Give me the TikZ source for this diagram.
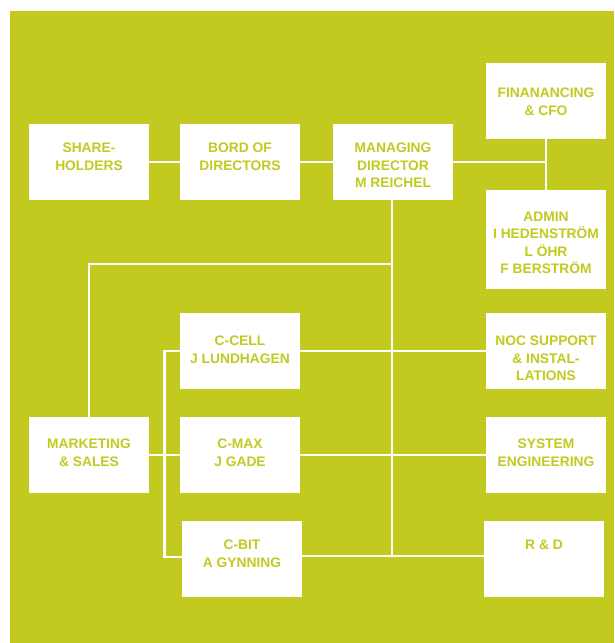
\documentclass[tikz,border=0pt]{standalone}
\usepackage{fontspec}
\setmainfont{Liberation Sans}
\definecolor{lime}{HTML}{C2CA1F}
\begin{document}
\begin{tikzpicture}[x=1pt,y=-1pt,
  box/.style={fill=white,draw=none,minimum width=120pt,minimum height=76pt,inner sep=0pt},
  txt/.style={anchor=north,inner sep=0pt,align=center,text=lime,font=\bfseries\fontsize{13.8}{17.5}\selectfont},
  wire/.style={draw=white,line width=2.8pt}]
\useasboundingbox (0,0) rectangle (614,643);
\fill[lime] (10,11) rectangle (614,643);
% boxes
\node[box] (share) at (89,162) {};
\node[box] (bord) at (240,162) {};
\node[box] (md) at (393,162) {};
\node[box] (fin) at (546,101) {};
\node[box,minimum height=99pt] (admin) at (546,239.5) {};
\node[box] (ccell) at (240,351) {};
\node[box] (noc) at (546,351) {};
\node[box] (mkt) at (89,455) {};
\node[box] (cmax) at (240,455) {};
\node[box] (sys) at (546,455) {};
\node[box] (cbit) at (242,559) {};
\node[box] (rd) at (544,559) {};
% connectors
\coordinate (j1) at (392,264);
\coordinate (j2) at (392,556);
\draw[wire] (share.east) -- (bord.west);
\draw[wire] (bord.east) -- (md.west);
\draw[wire] (md.east) -- (md.east -| fin.south);
\draw[wire] (fin.south) -- (admin.north);
\draw[wire] (md.south -| j1) -- (j2);
\draw[wire] (j1) -| (mkt.north);
\draw[wire] (mkt.east) -- (cmax.west);
\draw[wire] (ccell.west) -- ++(-15,0) |- ([yshift=2pt]cbit.west);
\draw[wire] (ccell.east) -- (noc.west);
\draw[wire] (cmax.east) -- (sys.west);
\draw[wire] ([yshift=3pt]cbit.east) -- ([yshift=3pt]rd.west);
% texts
\node[txt] (share-t) at ([yshift=-19pt]share.north) {SHARE-\\HOLDERS};
\node[txt] (bord-t) at ([yshift=-19pt]bord.north) {BORD OF\\DIRECTORS};
\node[txt] (md-t) at ([yshift=-19pt]md.north) {MANAGING\\DIRECTOR\\M REICHEL};
\node[txt] (fin-t) at ([yshift=-25pt]fin.north) {FINANANCING\\\& CFO};
\node[txt] (admin-t) at ([yshift=-22pt]admin.north) {ADMIN\\I HEDENSTRÖM\\L ÖHR\\F BERSTRÖM};
\node[txt] (ccell-t) at ([yshift=-23pt]ccell.north) {C-CELL\\J LUNDHAGEN};
\node[txt] (noc-t) at ([yshift=-23pt]noc.north) {NOC SUPPORT\\\& INSTAL-\\LATIONS};
\node[txt] (mkt-t) at ([yshift=-22pt]mkt.north) {MARKETING\\\& SALES};
\node[txt] (cmax-t) at ([yshift=-22pt]cmax.north) {C-MAX\\J GADE};
\node[txt] (sys-t) at ([yshift=-22pt]sys.north) {SYSTEM\\ENGINEERING};
\node[txt] (cbit-t) at ([yshift=-19pt]cbit.north) {C-BIT\\A GYNNING};
\node[txt] (rd-t) at ([yshift=-19pt]rd.north) {R \& D};
\end{tikzpicture}
\end{document}
